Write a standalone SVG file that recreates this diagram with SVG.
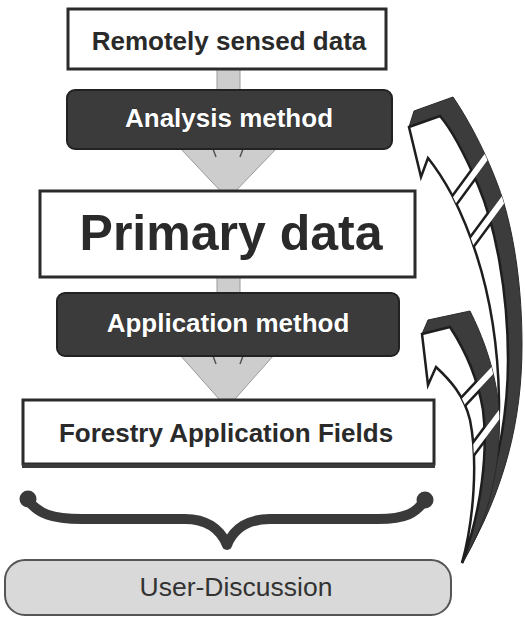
<svg xmlns="http://www.w3.org/2000/svg" width="525" height="618" viewBox="0 0 525 618">
<style>
.box{fill:#fff;stroke:#2b2b2b;stroke-width:3}
.dbox{fill:#3b3b3b;stroke:#222;stroke-width:2}
.t{font-family:"Liberation Sans",Arial,sans-serif;font-weight:bold;text-anchor:middle}
.tk{fill:#2a2a2a}
.tw{fill:#fff;stroke:#1a1a1a;stroke-width:0.6;paint-order:stroke}
.flow{fill:#cdcdcd;stroke:#9a9a9a;stroke-width:1}
.dark{fill:#3c3c3c;stroke:#2a2a2a;stroke-width:1}
.front{fill:#fff;stroke:#1e1e1e;stroke-width:2.5;stroke-linejoin:miter}
.gapk{stroke:#1e1e1e;stroke-width:11;fill:none}
.gapw{stroke:#fff;stroke-width:6;fill:none}
</style>
<defs>
<path id="a1d" d="M453,97 C470,122 490,160 503,200 C515,240 522,290 522,345 C522,420 505,490 462,563 C490,500 508,430 508,360 C508,290 495,225 478,185 C465,155 452,130 440,116 L409,127 L414,111 Z"/>
<path id="a1w" d="M409,127 L440,116 C452,130 465,155 478,185 C495,225 508,290 508,360 C508,430 490,500 462,563 C485,520 500,460 499,400 C498,330 485,260 452,195 C445,182 436,168 428,158 L421,177 Z"/>
<path id="a2d" d="M470,311 C482,335 496,370 499,410 C502,460 490,520 462,563 C482,510 488,450 483,410 C478,380 465,350 450,327 L422,334 L428,320 Z"/>
<path id="a2w" d="M422,334 L450,327 C465,350 478,380 483,410 C488,450 482,510 462,563 C474,520 478,460 470,420 C464,395 450,380 436,367 L428,385 Z"/>
<clipPath id="c1w"><use href="#a1w"/></clipPath>
<clipPath id="c1a"><use href="#a1w"/><use href="#a1d"/></clipPath>
<clipPath id="c2w"><use href="#a2w"/></clipPath>
<clipPath id="c2a"><use href="#a2w"/><use href="#a2d"/></clipPath>
</defs>

<g id="connectors">
  <polygon class="flow" points="217,69 240,69 240,148 277,148 228,199 180,148 217,148"/>
  <path d="M213,149 L216,157 M243,149 L240,157" stroke="#555" stroke-width="1.5" fill="none"/>
  <polygon class="flow" points="217,277 240,277 240,355 274,355 227,408 180,355 217,355"/>
  <path d="M213,356 L216,364 M243,356 L240,364" stroke="#555" stroke-width="1.5" fill="none"/>
  <g id="feedback-top">
    <use href="#a1d" class="dark"/>
    <use href="#a1w" class="front"/>
    <g clip-path="url(#c1w)"><path class="gapk" d="M448,209 L492,149 M463,254 L514,185"/></g>
    <g clip-path="url(#c1a)"><path class="gapw" d="M448,209 L492,149 M463,254 L514,185"/></g>
  </g>
  <g id="feedback-bottom">
    <use href="#a2d" class="dark"/>
    <use href="#a2w" class="front"/>
    <g clip-path="url(#c2w)"><path class="gapk" d="M446,420 L506,356 M460,467 L513,396"/></g>
    <g clip-path="url(#c2a)"><path class="gapw" d="M446,420 L506,356 M460,467 L513,396"/></g>
  </g>
</g>

<g id="node-remote">
  <rect class="box" x="68" y="9" width="318" height="60"/>
  <text class="t tk" x="229" y="50" font-size="26">Remotely sensed data</text>
</g>
<g id="node-analysis">
  <rect class="dbox" x="67" y="90" width="325" height="59" rx="8"/>
  <text class="t tw" x="229" y="127" font-size="26">Analysis method</text>
</g>
<g id="node-primary">
  <rect class="box" x="40" y="191" width="375" height="86"/>
  <text class="t tk" x="231" y="250" font-size="50">Primary data</text>
</g>
<g id="node-application">
  <rect class="dbox" x="57" y="293" width="342" height="63" rx="8"/>
  <text class="t tw" x="228" y="332" font-size="26">Application method</text>
</g>
<g id="node-forestry">
  <rect class="box" x="23" y="400" width="411" height="64"/>
  <line x1="22" y1="466" x2="435" y2="466" stroke="#3a3a3a" stroke-width="4"/>
  <text class="t tk" x="226" y="442" font-size="26">Forestry Application Fields</text>
</g>
<g id="node-brace">
  <path d="M27,499 C38,514 52,519 82,519 L185,519 C205,519 220,528 227,545 C234,528 249,519 270,519 L378,519 C406,519 416,513 425,500" fill="none" stroke="#3a3a3a" stroke-width="10" stroke-linecap="round" stroke-linejoin="round"/>
  <circle cx="28" cy="499" r="8.5" fill="#3a3a3a"/>
  <circle cx="425" cy="500" r="8.5" fill="#3a3a3a"/>
</g>
<g id="node-user">
  <rect x="5" y="560" width="446" height="55" rx="20" fill="#d9d9d9" stroke="#555" stroke-width="2"/>
  <text x="236" y="596" font-family="Liberation Sans, Arial, sans-serif" font-size="26.5" text-anchor="middle" fill="#333">User-Discussion</text>
</g>
</svg>
